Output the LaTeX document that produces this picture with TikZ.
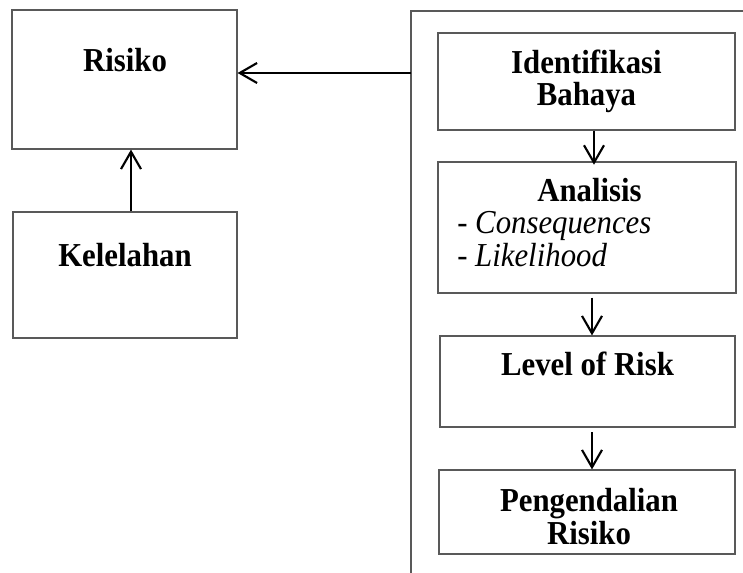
\documentclass[tikz,border=0pt]{standalone}
\usepackage{fontspec}
\setmainfont{Liberation Serif}[FakeStretch=0.92]
\usetikzlibrary{arrows.meta}
\begin{document}
\begin{tikzpicture}[x=0.75pt,y=-0.75pt,
  box/.style={draw=black!65,line width=0.9pt,rectangle,inner sep=0pt},
  lbl/.style={inner sep=0pt,anchor=base,font=\fontsize{25.1}{30}\selectfont\bfseries},
  itl/.style={inner sep=0pt,anchor=base west,font=\fontsize{25.1}{30}\selectfont\itshape},
  arr/.style={line width=1.6pt,-{Straight Barb[length=13pt,width=15pt]}},
  frame/.style={draw=black!65,line width=0.9pt}]
\useasboundingbox (0,0) rectangle (743,573);
% boxes
\node[box,minimum width=225*0.75pt,minimum height=139*0.75pt] (risk) at (124.5,79.5) {};
\node[box,minimum width=224*0.75pt,minimum height=126*0.75pt] (kel) at (125,275) {};
\node[box,minimum width=297*0.75pt,minimum height=97*0.75pt] (ident) at (586.5,81.5) {};
\node[box,minimum width=298*0.75pt,minimum height=131*0.75pt] (anal) at (587,227.5) {};
\node[box,minimum width=295*0.75pt,minimum height=91*0.75pt] (lvl) at (587.5,381.5) {};
\node[box,minimum width=296*0.75pt,minimum height=84*0.75pt] (peng) at (587,512) {};
% container frame
\coordinate (fr) at (743,11);
\coordinate (fl) at (411,11);
\coordinate (fb) at (411,573);
\draw[frame] (fr) -- (fl) -- (fb);
\coordinate (fa) at (411,73);
% texts
\node[lbl] (t1) at (125,72) {Risiko};
\node[lbl] (t2) at (125,267) {Kelelahan};
\node[lbl] (t3) at (586.5,74) {Identifikasi};
\node[lbl] (t4) at (586.5,106) {Bahaya};
\node[lbl] (t5) at (589.5,202) {Analisis};
\node[itl] (t6) at (457,234) {- Consequences};
\node[itl] (t7) at (457,267) {- Likelihood};
\node[lbl] (t8) at (587.5,376) {Level of Risk};
\node[lbl] (t9) at (589,512) {Pengendalian};
\node[lbl] (t10) at (589,545) {Risiko};
% connectors
\coordinate (kx) at (131,0);
\coordinate (ax) at (594,0);
\coordinate (bx) at (592,0);
\draw[arr] (fa) -- (risk.east |- fa);
\draw[arr] (kel.north -| kx) -- (risk.south -| kx);
\draw[arr] (ident.south -| ax) -- ([yshift=-2.5pt]anal.north -| ax);
\draw[arr] ([yshift=-3pt]anal.south -| bx) -- (lvl.north -| bx);
\draw[arr] ([yshift=-3.5pt]lvl.south -| bx) -- (peng.north -| bx);
\end{tikzpicture}
\end{document}
